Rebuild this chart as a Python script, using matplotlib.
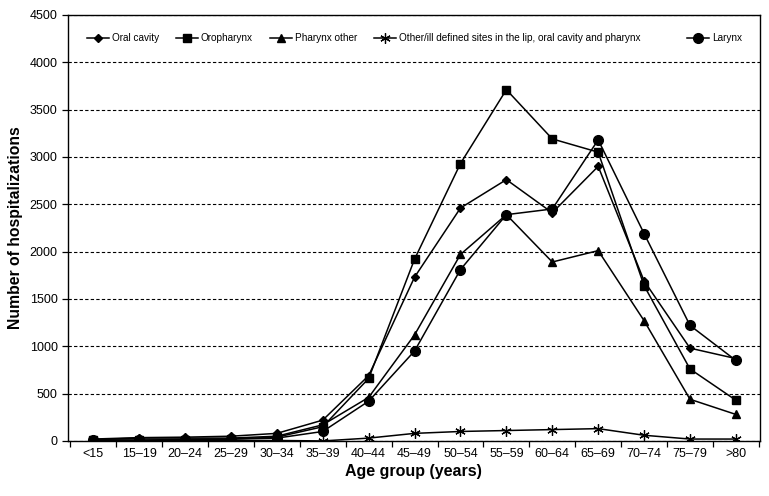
import numpy as np
import matplotlib
matplotlib.use('Agg')
import matplotlib.pyplot as plt
import matplotlib.ticker as ticker

plt.rcParams['font.family'] = ['Liberation Sans', 'DejaVu Sans']

ages = ['<15', '15\u201319', '20\u201324', '25\u201329', '30\u201334', '35\u201339', '40\u201344',
        '45\u201349', '50\u201354', '55\u201359', '60\u201364', '65\u201369', '70\u201374', '75\u201379', '>80']
oral_cavity = [20, 35, 40, 50, 80, 220, 690, 1730, 2460, 2760, 2410, 2900, 1690, 980, 870]
oropharynx = [10, 5, 15, 20, 40, 150, 660, 1920, 2930, 3710, 3190, 3050, 1640, 760, 430]
pharynx_other = [15, 30, 30, 30, 50, 170, 460, 1120, 1970, 2390, 1890, 2010, 1270, 440, 280]
other_ill = [5, 5, 5, 5, 5, 0, 30, 80, 100, 110, 120, 130, 60, 20, 20]
larynx = [10, 10, 15, 20, 30, 100, 420, 950, 1810, 2390, 2450, 3180, 2190, 1220, 850]

fig = plt.figure(figsize=(7.69, 4.96), dpi=100)
ax = fig.add_axes([0.0884, 0.111, 0.8996, 0.859])
x = np.arange(len(ages))

kw = dict(color='k', lw=1.1)
h1, = ax.plot(x, oral_cavity, marker='D', ms=4.5, label='Oral cavity', **kw)
h2, = ax.plot(x, oropharynx, marker='s', ms=5.5, label='Oropharynx', **kw)
h3, = ax.plot(x, pharynx_other, marker='^', ms=6, label='Pharynx other', **kw)
h4, = ax.plot(x, other_ill, marker=(6, 2, 0), ms=7.5, mew=0.9,
              label='Other/ill defined sites in the lip, oral cavity and pharynx', **kw)
h5, = ax.plot(x, larynx, marker='o', ms=7, label='Larynx', **kw)

ax.set_ylim(0, 4500)
ax.set_xlim(-0.55, 14.52)
ax.yaxis.set_major_locator(ticker.MultipleLocator(500))
ax.yaxis.grid(True, linestyle=(0, (3, 2)), color='k', lw=0.8)
ax.set_axisbelow(True)
ax.set_xticks(x, ages)
ax.set_xticks(np.arange(-0.5, 14.6, 1), minor=True)
ax.tick_params(axis='x', which='major', length=0, labelsize=9, pad=5)
ax.tick_params(axis='x', which='minor', length=4, width=0.9)
ax.tick_params(axis='y', labelsize=9, length=4, width=0.9)
for s in ax.spines.values():
    s.set_linewidth(1.0)

ax.set_xlabel('Age group (years)', fontsize=11.5, fontweight='bold', labelpad=3)
ax.set_ylabel('Number of hospitalizations', fontsize=11.3, fontweight='bold', labelpad=5)

leg1 = ax.legend(handles=[h1, h2, h3, h4], loc='upper left', bbox_to_anchor=(0.014, 0.978),
                 ncol=4, frameon=False, fontsize=7.2, handlelength=2.2, columnspacing=1.7,
                 handletextpad=0.3)
ax.add_artist(leg1)
ax.legend(handles=[h5], loc='upper right', bbox_to_anchor=(0.988, 0.978), frameon=False,
          fontsize=7.2, handlelength=2.2, handletextpad=0.3)

fig.savefig('out.png', dpi=100)
